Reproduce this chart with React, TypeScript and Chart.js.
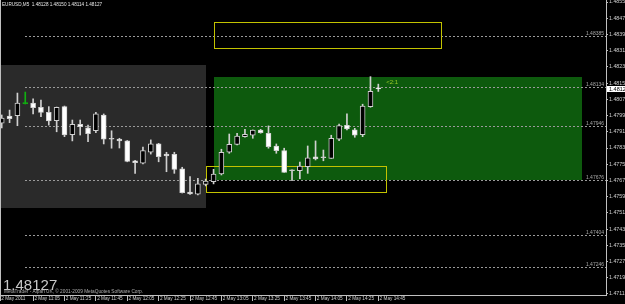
import React, { useEffect, useRef } from "react";
import { Chart, registerables } from "chart.js";

Chart.register(...registerables);

// ---- Data (EURUSD, M5, 2 May 2011) ----
const candleIdx = [
  0, 1, 2, 3, 4, 5, 6, 7, 8, 9, 10, 11, 12, 13, 14, 15, 16, 17, 18, 19, 20, 21, 22, 23, 24,
  25, 26, 27, 28, 29, 30, 31, 32, 33, 34, 35, 36, 37, 38, 39, 40, 41, 42, 43, 44, 45, 46, 47, 48,
];
const opens = [
  1.47958, 1.47993, 1.47994, 1.48054, 1.48057, 1.48036, 1.48011, 1.4797, 1.48039, 1.47901,
  1.47952, 1.47935, 1.4792, 1.47998, 1.47878, 1.47879, 1.4787, 1.47772, 1.4776, 1.47814,
  1.47855, 1.47805, 1.47804, 1.47732, 1.47618, 1.47607, 1.47656, 1.47669, 1.47707, 1.47814,
  1.47853, 1.47891, 1.47898, 1.47924, 1.47908, 1.47845, 1.47822, 1.47723, 1.47723, 1.47743,
  1.47791, 1.47787, 1.47784, 1.47878, 1.47947, 1.47925, 1.47901, 1.48039, 1.48128,
];
const highs = [
  1.47998, 1.48022, 1.48106, 1.48111, 1.48077, 1.48072, 1.48039, 1.48037, 1.48042, 1.47973,
  1.47973, 1.47948, 1.48011, 1.48003, 1.4792, 1.47883, 1.47872, 1.47774, 1.47839, 1.47875,
  1.47858, 1.47814, 1.47814, 1.4774, 1.47694, 1.47686, 1.47682, 1.4773, 1.47829, 1.47904,
  1.47908, 1.47927, 1.47924, 1.47927, 1.47944, 1.47855, 1.47834, 1.47727, 1.47766, 1.47845,
  1.4787, 1.47825, 1.47898, 1.47953, 1.48003, 1.47932, 1.48051, 1.48187, 1.4815,
];
const lows = [
  1.47934, 1.4796, 1.47945, 1.48052, 1.48003, 1.47989, 1.47948, 1.47915, 1.47891, 1.4787,
  1.47899, 1.47866, 1.47911, 1.47855, 1.47834, 1.47835, 1.47767, 1.4771, 1.47756, 1.47805,
  1.47767, 1.47718, 1.4771, 1.47613, 1.47606, 1.47603, 1.47648, 1.47658, 1.47702, 1.47809,
  1.4785, 1.47888, 1.47883, 1.47908, 1.47834, 1.47809, 1.47715, 1.47674, 1.47684, 1.4771,
  1.47776, 1.47772, 1.47784, 1.47871, 1.47924, 1.47888, 1.47891, 1.48036, 1.48114,
];
const closes = [
  1.47983, 1.4798, 1.48057, 1.48054, 1.48034, 1.48011, 1.47968, 1.48036, 1.47899, 1.47952,
  1.4794, 1.47906, 1.48003, 1.47879, 1.47878, 1.4787, 1.47769, 1.47763, 1.47822, 1.47855,
  1.47792, 1.47796, 1.4773, 1.47615, 1.47608, 1.47658, 1.47672, 1.47707, 1.47814, 1.47853,
  1.47894, 1.47903, 1.47924, 1.47911, 1.47841, 1.47822, 1.47715, 1.47723, 1.47746, 1.47787,
  1.47781, 1.47787, 1.47883, 1.47945, 1.47929, 1.47898, 1.48042, 1.48115, 1.48127,
];
const markedCandle = 3;

const xTickVals = [-0.22, 4, 8, 12, 16, 20, 24, 28, 32, 36, 40, 44, 48];
const xTickLabels = [
  "2 May 2011", "2 May 11:05", "2 May 11:25", "2 May 11:45", "2 May 12:05", "2 May 12:25",
  "2 May 12:45", "2 May 13:05", "2 May 13:25", "2 May 13:45", "2 May 14:05", "2 May 14:25",
  "2 May 14:45",
];
const yTickVals = [
  1.48555, 1.48475, 1.48395, 1.48315, 1.48235, 1.48155, 1.48075, 1.47995, 1.47915, 1.47835,
  1.47755, 1.47675, 1.47595, 1.47515, 1.47435, 1.47355, 1.47275, 1.47195, 1.47115,
];

// objects on chart: [fromIndex, toIndex, topPrice, bottomPrice]
const grayZone = [-6, 26, 1.48244, 1.47539];
const greenZone = [27, 74, 1.48185, 1.47676];
const yellowBoxTop = [27, 56, 1.48456, 1.48328];
const yellowBoxLow = [26, 49, 1.47746, 1.47618];
const levelStart = 3;
const levelPrices = [1.48385, 1.48134, 1.47946, 1.47676, 1.47404, 1.47246];
const levelLabels = ["1.48385", "1.48134", "1.47946", "1.47676", "1.47404", "1.47246"];
const ratioLabel = { x: 49, price: 1.48158, text: "<2:1" };
const lastPrice = 1.48127;
const titleText = "EURUSD,M5  1.48128 1.48150 1.48114 1.48127";
const copyrightText = "MetaTrader - Alpari UK, \u00a9 2001-2009 MetaQuotes Software Corp.";

const X_MIN = -0.22;
const X_MAX = 77.02;
const Y_MIN = 1.4711;
const Y_MAX = 1.48565;

const AXIS_COLOR = "#c0c0c0";
const WICK_COLOR = "#d0d0d0";
const FONT = "'Liberation Sans', Arial, sans-serif";

function narrowText(ctx: any, text: string, x: number, y: number, sx: number) {
  ctx.save();
  ctx.translate(x, y);
  ctx.scale(sx, 1);
  ctx.fillText(text, 0, 0);
  ctx.restore();
}

const overlayPlugin = {
  id: "mtOverlay",
  beforeDraw(chart: any) {
    const { ctx, width, height } = chart;
    ctx.save();
    ctx.fillStyle = "#000000";
    ctx.fillRect(0, 0, width, height);
    ctx.restore();
  },
  beforeDatasetsDraw(chart: any) {
    const { ctx, chartArea, scales } = chart;
    const xs = scales.x;
    const ys = scales.y;
    const rect = (r: number[]) => {
      const x0 = Math.round(xs.getPixelForValue(r[0]));
      const x1 = Math.round(xs.getPixelForValue(r[1]));
      const y0 = Math.round(ys.getPixelForValue(r[2]));
      const y1 = Math.round(ys.getPixelForValue(r[3]));
      return [x0, y0, x1 - x0, y1 - y0];
    };
    ctx.save();
    ctx.beginPath();
    ctx.rect(chartArea.left, chartArea.top, chartArea.right - chartArea.left, chartArea.bottom - chartArea.top);
    ctx.clip();

    let [gx, gy, gw, gh] = rect(grayZone);
    ctx.fillStyle = "#2a2a2a";
    ctx.fillRect(gx, gy, gw, gh);

    [gx, gy, gw, gh] = rect(greenZone);
    ctx.fillStyle = "#0d5a0d";
    ctx.fillRect(gx, gy, gw, gh);

    // horizontal levels
    const lx = Math.round(xs.getPixelForValue(levelStart));
    ctx.strokeStyle = "#9a9a9a";
    ctx.lineWidth = 1;
    ctx.setLineDash([2, 2]);
    levelPrices.forEach((p) => {
      const py = Math.round(ys.getPixelForValue(p)) + 0.5;
      ctx.beginPath();
      ctx.moveTo(lx, py);
      ctx.lineTo(chartArea.right, py);
      ctx.stroke();
    });
    ctx.setLineDash([]);
    ctx.fillStyle = "#a8a8a8";
    ctx.font = `5px ${FONT}`;
    ctx.textAlign = "right";
    ctx.textBaseline = "alphabetic";
    levelPrices.forEach((p, i) => {
      const py = Math.round(ys.getPixelForValue(p));
      ctx.fillText(levelLabels[i], chartArea.right - 2, py - 1);
    });

    // yellow boxes
    ctx.strokeStyle = "#c2c200";
    [yellowBoxTop, yellowBoxLow].forEach((r) => {
      const [bx, by, bw, bh] = rect(r);
      ctx.strokeRect(bx + 0.5, by + 0.5, bw, bh);
    });
    ctx.restore();
  },
  afterDraw(chart: any) {
    const { ctx, chartArea, scales, width } = chart;
    const xs = scales.x;
    const ys = scales.y;
    ctx.save();
    // left frame
    ctx.strokeStyle = AXIS_COLOR;
    ctx.lineWidth = 1;
    ctx.beginPath();
    ctx.moveTo(chartArea.left + 0.5, chartArea.top);
    ctx.lineTo(chartArea.left + 0.5, chartArea.bottom);
    ctx.stroke();

    // ratio label
    ctx.fillStyle = "#9ccc28";
    ctx.font = `6px ${FONT}`;
    ctx.textAlign = "left";
    ctx.textBaseline = "middle";
    ctx.fillText(ratioLabel.text, xs.getPixelForValue(ratioLabel.x), ys.getPixelForValue(ratioLabel.price));

    // title
    ctx.fillStyle = "#e8e8e8";
    ctx.font = `5.5px ${FONT}`;
    ctx.textBaseline = "top";
    narrowText(ctx, titleText, 2, 2, 0.84);

    // big last price
    ctx.fillStyle = "#c8c8c8";
    ctx.font = `15px ${FONT}`;
    ctx.textBaseline = "alphabetic";
    ctx.fillText(lastPrice.toFixed(5), 3, 290);

    // copyright
    ctx.fillStyle = "#b0b0b0";
    ctx.font = `5px ${FONT}`;
    narrowText(ctx, copyrightText, 4, 293, 0.95);

    // current price box on axis
    const py = Math.round(ys.getPixelForValue(lastPrice));
    ctx.fillStyle = "#ffffff";
    ctx.fillRect(chartArea.right + 1, py - 3, width - chartArea.right - 1, 6);
    ctx.fillStyle = "#000000";
    ctx.font = `5.5px ${FONT}`;
    ctx.textBaseline = "middle";
    ctx.fillText(lastPrice.toFixed(5), chartArea.right + 3, py);
    ctx.restore();
  },
};

export default function App() {
  const ref = useRef<HTMLCanvasElement | null>(null);

  useEffect(() => {
    document.body.style.margin = "0";
    document.body.style.background = "#000";
    const canvas = ref.current;
    if (!canvas) return;

    const bodyColors = candleIdx.map((i) =>
      i === markedCandle ? "#10b010" : closes[i] === opens[i] ? WICK_COLOR : closes[i] > opens[i] ? "#000000" : "#ffffff"
    );
    const borderColors = candleIdx.map((i) => (i === markedCandle ? "#10b010" : WICK_COLOR));
    const wickColors = candleIdx.map((i) => (i === markedCandle ? "#10b010" : WICK_COLOR));

    const chart = new Chart(canvas, {
      type: "bar",
      data: {
        datasets: [
          {
            label: "wick",
            data: candleIdx.map((i) => ({ x: i, y: [lows[i], highs[i]] })),
            backgroundColor: wickColors,
            borderWidth: 0,
            barThickness: 1,
            grouped: false,
            order: 2,
          } as any,
          {
            label: "body",
            data: candleIdx.map((i) => ({ x: i, y: [opens[i], closes[i]] })),
            backgroundColor: bodyColors,
            borderColor: borderColors,
            borderWidth: 1,
            borderSkipped: false,
            barThickness: 5,
            minBarLength: 1,
            grouped: false,
            order: 1,
          } as any,
        ],
      },
      options: {
        responsive: false,
        animation: false,
        events: [],
        layout: { padding: 0 },
        plugins: { legend: { display: false }, tooltip: { enabled: false } },
        scales: {
          x: {
            type: "linear",
            min: X_MIN,
            max: X_MAX,
            offset: false,
            grid: { drawOnChartArea: false, drawTicks: true, tickLength: 6, color: AXIS_COLOR, offset: false },
            border: { display: true, color: AXIS_COLOR },
            ticks: {
              autoSkip: false,
              maxRotation: 0,
              minRotation: 0,
              align: "start",
              padding: -5,
              color: "#d0d0d0",
              font: { size: 4.7, family: FONT },
              callback: (_v: any, i: number) => " " + xTickLabels[i],
            },
            afterBuildTicks: (s: any) => {
              s.ticks = xTickVals.map((v) => ({ value: v }));
            },
            afterFit: (s: any) => {
              s.height = 9;
              s.paddingLeft = 0;
              s.paddingRight = 0;
            },
          },
          y: {
            type: "linear",
            position: "right",
            min: Y_MIN,
            max: Y_MAX,
            grid: { drawOnChartArea: false, drawTicks: true, tickLength: 2, color: AXIS_COLOR },
            border: { display: true, color: AXIS_COLOR },
            ticks: {
              autoSkip: false,
              padding: 1,
              color: "#d0d0d0",
              font: { size: 5.3, family: FONT },
              callback: (v: any) => Number(v).toFixed(5),
            },
            afterBuildTicks: (s: any) => {
              s.ticks = yTickVals.map((v) => ({ value: v }));
            },
            afterFit: (s: any) => {
              s.width = 19;
              s.paddingTop = 0;
              s.paddingBottom = 0;
            },
          },
        },
      } as any,
      plugins: [overlayPlugin],
    });

    return () => chart.destroy();
  }, []);

  return <canvas ref={ref} width={625} height={304} style={{ display: "block" }} />;
}
